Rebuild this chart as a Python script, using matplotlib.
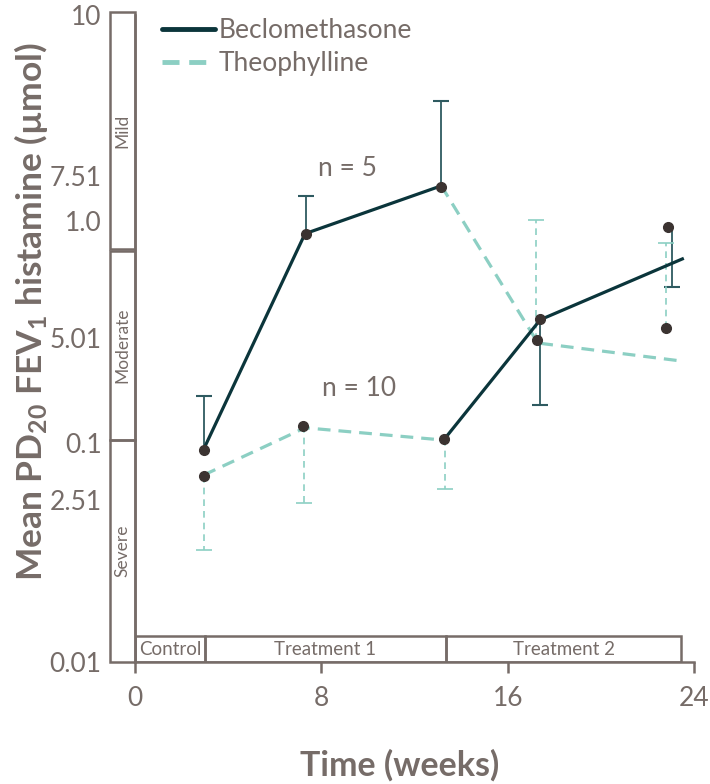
import matplotlib.pyplot as plt
from matplotlib.patches import Rectangle
from matplotlib.lines import Line2D

plt.rcParams['font.family'] = ['Lato', 'DejaVu Sans']

grey = '#766c68'
navy = '#0b353b'
teal = '#8ccfc3'
bar_navy = '#2e5a60'
dot = '#3b3331'

# n = 5 group: beclomethasone in treatment 1, theophylline in treatment 2
g5_weeks_b = [2.95, 7.3, 13.15]
g5_mean_b = [3.29, 6.62, 7.36]
g5_weeks_t = [13.15, 17.3, 23.5]
g5_mean_t = [7.36, 4.93, 4.65]
# n = 10 group: theophylline first, then beclomethasone
g10_weeks_t = [2.95, 7.3, 13.25]
g10_mean_t = [2.89, 3.62, 3.43]
g10_weeks_b = [13.25, 17.4, 23.5]
g10_mean_b = [3.43, 5.29, 6.23]

dot_weeks = [2.95, 2.98, 7.35, 7.22, 13.12, 13.25, 17.39, 17.26, 22.9, 22.78]
dot_vals = [3.28, 2.87, 6.62, 3.65, 7.34, 3.45, 5.30, 4.98, 6.72, 5.16]

# one-sided error bars: from the mean to the cap
beclo_err_weeks = [2.95, 7.35, 13.12, 17.39, 23.04]
beclo_err_from = [3.28, 6.62, 7.34, 5.30, 6.72]
beclo_err_to = [4.11, 7.20, 8.67, 3.97, 5.80]
theo_err_weeks = [2.95, 7.27, 13.29, 17.22, 22.78]
theo_err_from = [2.87, 3.65, 3.45, 4.98, 5.16]
theo_err_to = [1.73, 2.46, 2.67, 6.83, 6.48]

ytick_pos = [0, 2.51, 3.385, 5.01, 6.82, 7.51, 10]
ytick_lab = ['0.01', '2.51', '0.1', '5.01', '1.0', '7.51', '10']
xticks = [0, 8, 16, 24]

severity = [('Severe', 0, 3.43), ('Moderate', 3.43, 6.36), ('Mild', 6.38, 10.05)]
phases = [('Control', 0, 3.0), ('Treatment 1', 3.0, 13.35), ('Treatment 2', 13.35, 23.45)]

fig = plt.figure(figsize=(7.1, 7.84), dpi=100)
ax = fig.add_axes([135 / 710, 1 - 662 / 784, 559 / 710, 647 / 784])
ax.set_xlim(0, 24)
ax.set_ylim(0, 10)

ax.plot(g5_weeks_b, g5_mean_b, color=navy, lw=2.3, zorder=3)
ax.plot(g10_weeks_b, g10_mean_b, color=navy, lw=2.3, zorder=3)
ax.plot(g5_weeks_t, g5_mean_t, color=teal, lw=2.3, ls=(0, (4, 2.5)), zorder=2)
ax.plot(g10_weeks_t, g10_mean_t, color=teal, lw=2.3, ls=(0, (4, 2.5)), zorder=2)

ax.vlines(beclo_err_weeks, beclo_err_from, beclo_err_to, color=bar_navy, lw=1.3, zorder=2)
ax.plot(beclo_err_weeks, beclo_err_to, ls='none', marker='_', ms=11, mew=1.5, color=bar_navy)
ax.vlines(theo_err_weeks, theo_err_from, theo_err_to, color=teal, lw=1.2,
          linestyles=(0, (4, 3)), zorder=2)
ax.plot(theo_err_weeks, theo_err_to, ls='none', marker='_', ms=11, mew=1.2, color=teal)

ax.plot(dot_weeks, dot_vals, ls='none', marker='o', ms=7, color=dot, zorder=4)

ax.text(9.1, 7.62, 'n = 5', fontsize=19, color=grey, ha='center', va='center')
ax.text(9.6, 4.23, 'n = 10', fontsize=19, color=grey, ha='center', va='center')

# severity column left of the y axis
for name, lo, hi in severity:
    ax.add_patch(Rectangle((-1.07, lo), 1.07, hi - lo, fill=False, ec=grey, lw=1.8,
                           clip_on=False))
    ax.text(-0.535, (lo + hi) / 2, name, rotation=90, fontsize=12.5, color=grey,
            ha='center', va='center', clip_on=False)

# treatment phases along the bottom
for name, lo, hi in phases:
    ax.add_patch(Rectangle((lo, 0), hi - lo, 0.4, fill=False, ec=grey, lw=1.8))
    ax.text((lo + hi) / 2, 0.2, name, fontsize=13.5, color=grey, ha='center', va='center')

for s in ['top', 'right']:
    ax.spines[s].set_visible(False)
for s in ['left', 'bottom']:
    ax.spines[s].set_color(grey)
    ax.spines[s].set_linewidth(1.8)

ax.set_xticks(xticks)
ax.set_xticklabels([str(t) for t in xticks])
ax.set_yticks(ytick_pos)
ax.set_yticklabels(ytick_lab)
ax.tick_params(axis='x', colors=grey, labelsize=19, length=8, width=1.8, pad=9)
ax.tick_params(axis='y', colors=grey, labelsize=19, length=0, pad=24)

fig.text(31 / 710, 1 - 311 / 784, 'Mean PD$\\mathregular{_{20}}$ FEV$\\mathregular{_1}$ histamine (\u00b5mol)',
         rotation=90, fontsize=25.5, fontweight='bold', color=grey, ha='center', va='center')
fig.text(400 / 710, 1 - 765 / 784, 'Time (weeks)', fontsize=24.5, fontweight='bold',
         color=grey, ha='center', va='center')

handles = [Line2D([], [], color=navy, lw=3.5, solid_capstyle='round'),
           Line2D([], [], color=teal, lw=3.5, ls=(0, (3.5, 2)))]
ax.legend(handles, ['Beclomethasone', 'Theophylline'], loc='upper left',
          bbox_to_anchor=(162 / 710, 1 - 18 / 784), bbox_transform=fig.transFigure,
          frameon=False, fontsize=19, labelcolor=grey, handlelength=2.0,
          handletextpad=0.15, borderpad=0, borderaxespad=0, labelspacing=0.3)

fig.savefig('out.png', dpi=100)
